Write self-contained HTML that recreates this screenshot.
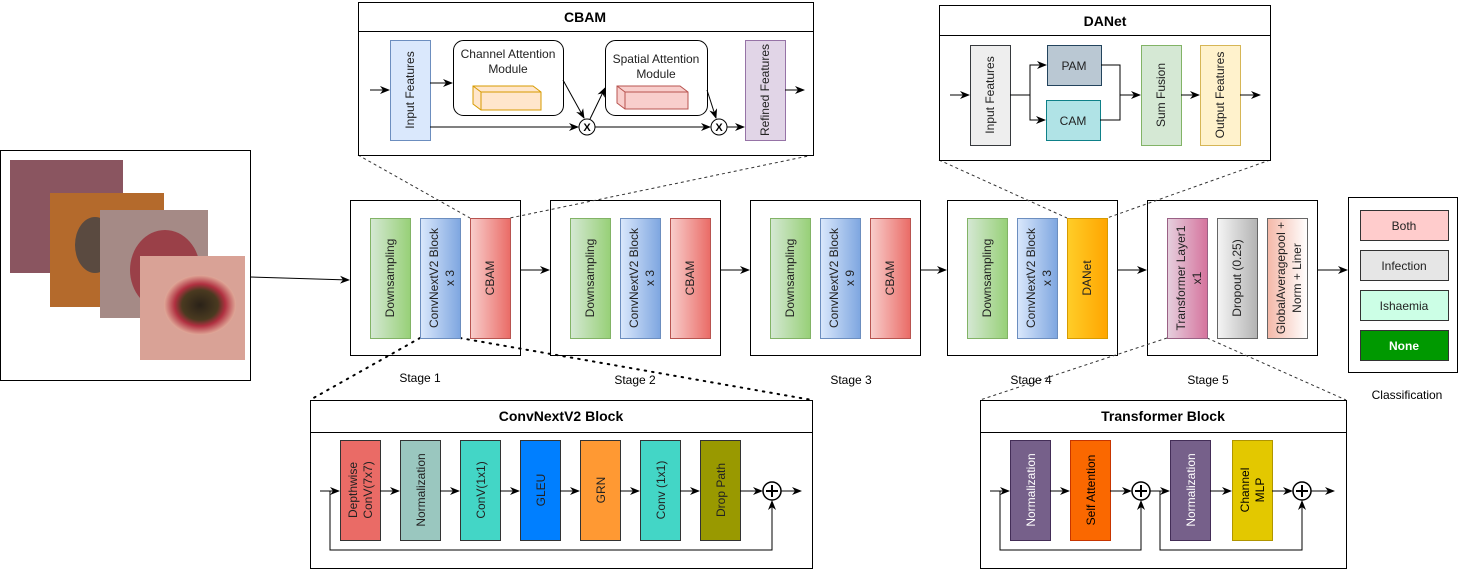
<!DOCTYPE html>
<html><head><meta charset="utf-8"><style>
html,body{margin:0;padding:0;background:#fff}
svg{display:block;font-family:"Liberation Sans",Arial,sans-serif}
</style></head><body>
<svg width="1458" height="570" viewBox="0 0 1458 570" xmlns="http://www.w3.org/2000/svg">
<defs>
<marker id="a" markerWidth="10" markerHeight="8" refX="9" refY="4" orient="auto" markerUnits="userSpaceOnUse"><path d="M0,0 L10,4 L0,8 L3,4 z" fill="#000"/></marker>
<linearGradient id="gG" x1="0" x2="1"><stop offset="0" stop-color="#d5e8d4"/><stop offset="1" stop-color="#97d077"/></linearGradient>
<linearGradient id="gB" x1="0" x2="1"><stop offset="0" stop-color="#dae8fc"/><stop offset="1" stop-color="#7ea6e0"/></linearGradient>
<linearGradient id="gR" x1="0" x2="1"><stop offset="0" stop-color="#f8cecc"/><stop offset="1" stop-color="#ea6b66"/></linearGradient>
<linearGradient id="gO" x1="0" x2="1"><stop offset="0" stop-color="#ffcd28"/><stop offset="1" stop-color="#ffa500"/></linearGradient>
<linearGradient id="gP" x1="0" x2="1"><stop offset="0" stop-color="#e6d0de"/><stop offset="1" stop-color="#d5739d"/></linearGradient>
<linearGradient id="gS" x1="0" x2="1"><stop offset="0" stop-color="#f5f5f5"/><stop offset="1" stop-color="#b3b3b3"/></linearGradient>
<linearGradient id="gK" x1="0" x2="1"><stop offset="0" stop-color="#f4b8a8"/><stop offset="1" stop-color="#fff"/></linearGradient>
<radialGradient id="w1"><stop offset="0" stop-color="#2a2218"/><stop offset="0.5" stop-color="#4a3a20"/><stop offset="0.7" stop-color="#b03040"/><stop offset="1" stop-color="#e0a898"/></radialGradient>
</defs>

<!-- input images -->
<rect x="0.5" y="150.5" width="250" height="230" fill="#fff" stroke="#000"/>
<rect x="10" y="160" width="113" height="113" fill="#8a5560"/>
<rect x="50" y="193" width="114" height="114" fill="#b46a2c"/>
<ellipse cx="95" cy="245" rx="20" ry="28" fill="#5a4a40"/>
<rect x="100" y="210" width="108" height="108" fill="#a58a86"/>
<ellipse cx="165" cy="270" rx="35" ry="40" fill="#9a4048"/>
<rect x="140" y="256" width="105" height="104" fill="#d9a296"/>
<ellipse cx="200" cy="305" rx="36" ry="30" fill="url(#w1)"/>
<line x1="250" y1="277" x2="349" y2="280" stroke="#000" marker-end="url(#a)"/>

<!-- stages -->
<g stroke="#000" fill="#fff">
<rect x="350.5" y="200.5" width="170" height="155"/>
<rect x="550.5" y="200.5" width="170" height="155"/>
<rect x="750.5" y="200.5" width="170" height="155"/>
<rect x="947.5" y="200.5" width="170" height="155"/>
<rect x="1147.5" y="200.5" width="170" height="155"/>
<rect x="1348.5" y="197.5" width="109" height="175"/>
</g>

<!-- dashed zoom lines -->
<g stroke="#333" stroke-dasharray="3,3" fill="none">
<line x1="358" y1="155" x2="470" y2="218"/><line x1="813" y1="155" x2="510" y2="218"/>
<line x1="939" y1="160" x2="1067" y2="218"/><line x1="1270" y1="160" x2="1107" y2="218"/>
<line x1="1167" y1="338" x2="980" y2="400"/><line x1="1207" y1="338" x2="1346" y2="400"/>
</g>
<g stroke="#000" stroke-dasharray="1.5,6" stroke-width="2" stroke-linecap="round" fill="none">
<line x1="420" y1="338" x2="310" y2="400"/><line x1="460" y1="338" x2="812" y2="400"/>
</g>

<g stroke="#000" marker-end="url(#a)">
<line x1="520" y1="270" x2="549" y2="270"/>
<line x1="720" y1="270" x2="749" y2="270"/>
<line x1="920" y1="270" x2="946" y2="270"/>
<line x1="1117" y1="270" x2="1146" y2="270"/>
<line x1="1317" y1="270" x2="1347" y2="270"/>
</g>

<g font-size="12" fill="#222">
<g>
<rect x="370.5" y="218.5" width="40" height="120" fill="url(#gG)" stroke="#82b366"/>
<rect x="420.5" y="218.5" width="40" height="120" fill="url(#gB)" stroke="#6c8ebf"/>
<rect x="470.5" y="218.5" width="40" height="120" fill="url(#gR)" stroke="#b85450"/>
<rect x="570.5" y="218.5" width="40" height="120" fill="url(#gG)" stroke="#82b366"/>
<rect x="620.5" y="218.5" width="40" height="120" fill="url(#gB)" stroke="#6c8ebf"/>
<rect x="670.5" y="218.5" width="40" height="120" fill="url(#gR)" stroke="#b85450"/>
<rect x="770.5" y="218.5" width="40" height="120" fill="url(#gG)" stroke="#82b366"/>
<rect x="820.5" y="218.5" width="40" height="120" fill="url(#gB)" stroke="#6c8ebf"/>
<rect x="870.5" y="218.5" width="40" height="120" fill="url(#gR)" stroke="#b85450"/>
<rect x="967.5" y="218.5" width="40" height="120" fill="url(#gG)" stroke="#82b366"/>
<rect x="1017.5" y="218.5" width="40" height="120" fill="url(#gB)" stroke="#6c8ebf"/>
<rect x="1067.5" y="218.5" width="40" height="120" fill="url(#gO)" stroke="#d79b00"/>
<rect x="1167.5" y="218.5" width="40" height="120" fill="url(#gP)" stroke="#996185"/>
<rect x="1217.5" y="218.5" width="40" height="120" fill="url(#gS)" stroke="#666"/>
<rect x="1267.5" y="218.5" width="40" height="120" fill="url(#gK)" stroke="#666"/>
</g>
<g text-anchor="middle">
<text transform="translate(394,278) rotate(-90)">Downsampling</text>
<text transform="translate(438,278) rotate(-90)">ConvNextV2 Block</text><text transform="translate(454,278) rotate(-90)">x 3</text>
<text transform="translate(494,278) rotate(-90)">CBAM</text>
<text transform="translate(594,278) rotate(-90)">Downsampling</text>
<text transform="translate(638,278) rotate(-90)">ConvNextV2 Block</text><text transform="translate(654,278) rotate(-90)">x 3</text>
<text transform="translate(694,278) rotate(-90)">CBAM</text>
<text transform="translate(794,278) rotate(-90)">Downsampling</text>
<text transform="translate(838,278) rotate(-90)">ConvNextV2 Block</text><text transform="translate(854,278) rotate(-90)">x 9</text>
<text transform="translate(894,278) rotate(-90)">CBAM</text>
<text transform="translate(991,278) rotate(-90)">Downsampling</text>
<text transform="translate(1035,278) rotate(-90)">ConvNextV2 Block</text><text transform="translate(1051,278) rotate(-90)">x 3</text>
<text transform="translate(1091,278) rotate(-90)">DANet</text>
<text transform="translate(1185,278) rotate(-90)">Transformer Layer1</text><text transform="translate(1201,278) rotate(-90)">x1</text>
<text transform="translate(1241,278) rotate(-90)">Dropout (0.25)</text>
<text transform="translate(1285,278) rotate(-90)">GlobalAveragepool +</text><text transform="translate(1301,278) rotate(-90)">Norm + Liner</text>
<text x="420" y="382" fill="#000">Stage 1</text>
<text x="635" y="384" fill="#000">Stage 2</text>
<text x="851" y="384" fill="#000">Stage 3</text>
<text x="1031" y="384" fill="#000">Stage 4</text>
<text x="1208" y="384" fill="#000">Stage 5</text>
<text x="1407" y="399" fill="#000">Classification</text>
</g>
<rect x="1360.5" y="210.5" width="88" height="30" fill="#ffcccc" stroke="#333"/>
<rect x="1360.5" y="250.5" width="88" height="30" fill="#e6e6e6" stroke="#333"/>
<rect x="1360.5" y="290.5" width="88" height="30" fill="#ccffe6" stroke="#333"/>
<rect x="1360.5" y="330.5" width="88" height="30" fill="#009900" stroke="#333"/>
<g text-anchor="middle">
<text x="1404" y="230">Both</text><text x="1404" y="270">Infection</text><text x="1404" y="310">Ishaemia</text>
<text x="1404" y="350" fill="#fff" font-weight="bold">None</text>
</g>
</g>

<!-- CBAM detail -->
<rect x="358.5" y="2.5" width="455" height="153" fill="#fff" stroke="#000"/>
<line x1="358" y1="31.5" x2="813" y2="31.5" stroke="#000"/>
<text x="585" y="22" text-anchor="middle" font-size="14" font-weight="bold">CBAM</text>
<rect x="390.5" y="40.5" width="40" height="100" fill="#dae8fc" stroke="#6c8ebf"/>
<rect x="745.5" y="40.5" width="40" height="100" fill="#e1d5e7" stroke="#9673a6"/>
<rect x="453.5" y="40.5" width="110" height="75" rx="10" fill="#fff" stroke="#000"/>
<rect x="605.5" y="40.5" width="102" height="75" rx="10" fill="#fff" stroke="#000"/>
<g font-size="12" text-anchor="middle" fill="#222">
<text transform="translate(414,90) rotate(-90)">Input Features</text>
<text transform="translate(769,90) rotate(-90)">Refined Features</text>
<text x="508" y="58">Channel Attention</text><text x="508" y="73">Module</text>
<text x="656" y="63">Spatial Attention</text><text x="656" y="78">Module</text>
</g>
<path d="M473,86 h60 l8,6 v18 h-60 l-8,-6 z" fill="#ffe6cc" stroke="#d79b00"/>
<path d="M473,86 l8,6 h60 M481,92 v18" fill="none" stroke="#d79b00"/>
<path d="M617,86 h63 l8,6 v17 h-63 l-8,-6 z" fill="#f8cecc" stroke="#b85450"/>
<path d="M617,86 l8,6 h63 M625,92 v17" fill="none" stroke="#b85450"/>
<g stroke="#000" fill="none">
<line x1="370" y1="90" x2="389" y2="90" marker-end="url(#a)"/>
<line x1="430" y1="83" x2="452" y2="83" marker-end="url(#a)"/>
<line x1="430" y1="127" x2="578" y2="127" marker-end="url(#a)"/>
<line x1="563" y1="80" x2="584" y2="118" marker-end="url(#a)"/>
<line x1="590" y1="119" x2="605" y2="88" marker-end="url(#a)"/>
<line x1="595" y1="127" x2="710" y2="127" marker-end="url(#a)"/>
<line x1="707" y1="90" x2="716" y2="118" marker-end="url(#a)"/>
<line x1="727" y1="127" x2="744" y2="127" marker-end="url(#a)"/>
<line x1="785" y1="90" x2="804" y2="90" marker-end="url(#a)"/>
<circle cx="587" cy="127" r="8" fill="#fff"/><circle cx="719" cy="127" r="8" fill="#fff"/>
</g>
<text x="587" y="131" font-size="11" font-weight="bold" text-anchor="middle">X</text>
<text x="719" y="131" font-size="11" font-weight="bold" text-anchor="middle">X</text>

<!-- DANet detail -->
<rect x="939.5" y="5.5" width="331" height="155" fill="#fff" stroke="#000"/>
<line x1="939" y1="35.5" x2="1270" y2="35.5" stroke="#000"/>
<text x="1105" y="26" text-anchor="middle" font-size="14" font-weight="bold">DANet</text>
<rect x="970.5" y="45.5" width="40" height="100" fill="#eeeeee" stroke="#36393d"/>
<rect x="1047.5" y="45.5" width="54" height="40" fill="#bac8d3" stroke="#23445d"/>
<rect x="1046.5" y="100.5" width="54" height="40" fill="#b0e3e6" stroke="#0e8088"/>
<rect x="1141.5" y="45.5" width="40" height="100" fill="#d5e8d4" stroke="#82b366"/>
<rect x="1200.5" y="45.5" width="40" height="100" fill="#fff2cc" stroke="#d6b656"/>
<g font-size="12" text-anchor="middle" fill="#222">
<text transform="translate(994,95) rotate(-90)">Input Features</text>
<text transform="translate(1165,95) rotate(-90)">Sum Fusion</text>
<text transform="translate(1224,95) rotate(-90)">Output Features</text>
<text x="1074" y="70">PAM</text><text x="1073" y="125">CAM</text>
</g>
<g stroke="#000" fill="none">
<line x1="950" y1="95" x2="969" y2="95" marker-end="url(#a)"/>
<path d="M1010,95 H1030 V65 H1046" marker-end="url(#a)"/>
<path d="M1030,95 V120 H1045" marker-end="url(#a)"/>
<path d="M1101,65 H1120 V120 H1100"/>
<line x1="1120" y1="95" x2="1140" y2="95" marker-end="url(#a)"/>
<line x1="1181" y1="95" x2="1199" y2="95" marker-end="url(#a)"/>
<line x1="1240" y1="95" x2="1260" y2="95" marker-end="url(#a)"/>
</g>

<!-- ConvNextV2 detail -->
<rect x="310.5" y="400.5" width="502" height="168" fill="#fff" stroke="#000"/>
<line x1="310" y1="432.5" x2="812" y2="432.5" stroke="#000"/>
<text x="561" y="421" text-anchor="middle" font-size="14" font-weight="bold">ConvNextV2 Block</text>
<rect x="340.5" y="440.5" width="40" height="100" fill="#ea6b66" stroke="#333"/>
<rect x="400.5" y="440.5" width="40" height="100" fill="#9ac7bf" stroke="#333"/>
<rect x="460.5" y="440.5" width="40" height="100" fill="#43d6c6" stroke="#333"/>
<rect x="520.5" y="440.5" width="40" height="100" fill="#007fff" stroke="#333"/>
<rect x="580.5" y="440.5" width="40" height="100" fill="#ff9933" stroke="#333"/>
<rect x="640.5" y="440.5" width="40" height="100" fill="#43d6c6" stroke="#333"/>
<rect x="700.5" y="440.5" width="40" height="100" fill="#999900" stroke="#333"/>
<g font-size="12" text-anchor="middle" fill="#222">
<text transform="translate(357,490) rotate(-90)">Depthwise</text><text transform="translate(372,490) rotate(-90)">ConV(7x7)</text>
<text transform="translate(425,490) rotate(-90)">Normalization</text>
<text transform="translate(485,490) rotate(-90)">ConV(1x1)</text>
<text transform="translate(545,490) rotate(-90)">GLEU</text>
<text transform="translate(605,490) rotate(-90)">GRN</text>
<text transform="translate(665,490) rotate(-90)">Conv (1x1)</text>
<text transform="translate(725,490) rotate(-90)">Drop Path</text>
</g>
<g stroke="#000" fill="none">
<line x1="320" y1="491" x2="339" y2="491" marker-end="url(#a)"/>
<line x1="380" y1="491" x2="399" y2="491" marker-end="url(#a)"/>
<line x1="440" y1="491" x2="459" y2="491" marker-end="url(#a)"/>
<line x1="500" y1="491" x2="519" y2="491" marker-end="url(#a)"/>
<line x1="560" y1="491" x2="579" y2="491" marker-end="url(#a)"/>
<line x1="620" y1="491" x2="639" y2="491" marker-end="url(#a)"/>
<line x1="680" y1="491" x2="699" y2="491" marker-end="url(#a)"/>
<line x1="740" y1="491" x2="762" y2="491" marker-end="url(#a)"/>
<line x1="781" y1="491" x2="801" y2="491" marker-end="url(#a)"/>
<path d="M330,491 V550 H772 V501" marker-end="url(#a)"/>
<circle cx="772" cy="491" r="9" fill="#fff" stroke-width="1.5"/>
<path d="M766,491 h12 M772,485 v12" stroke-width="2"/>
</g>

<!-- Transformer detail -->
<rect x="980.5" y="400.5" width="366" height="168" fill="#fff" stroke="#000"/>
<line x1="980" y1="432.5" x2="1346" y2="432.5" stroke="#000"/>
<text x="1163" y="421" text-anchor="middle" font-size="14" font-weight="bold">Transformer Block</text>
<rect x="1010.5" y="440.5" width="40" height="100" fill="#76608a" stroke="#432d57"/>
<rect x="1070.5" y="440.5" width="40" height="100" fill="#fa6800" stroke="#c73500"/>
<rect x="1170.5" y="440.5" width="40" height="100" fill="#76608a" stroke="#432d57"/>
<rect x="1232.5" y="440.5" width="40" height="100" fill="#e3c800" stroke="#b09500"/>
<g font-size="12" text-anchor="middle">
<text transform="translate(1035,490) rotate(-90)" fill="#fff">Normalization</text>
<text transform="translate(1095,490) rotate(-90)" fill="#000">Self Attention</text>
<text transform="translate(1195,490) rotate(-90)" fill="#fff">Normalization</text>
<text transform="translate(1249,490) rotate(-90)" fill="#000">Channel</text><text transform="translate(1264,490) rotate(-90)" fill="#000">MLP</text>
</g>
<g stroke="#000" fill="none">
<line x1="990" y1="491" x2="1009" y2="491" marker-end="url(#a)"/>
<line x1="1050" y1="491" x2="1069" y2="491" marker-end="url(#a)"/>
<line x1="1110" y1="491" x2="1131" y2="491" marker-end="url(#a)"/>
<line x1="1150" y1="491" x2="1169" y2="491" marker-end="url(#a)"/>
<line x1="1210" y1="491" x2="1231" y2="491" marker-end="url(#a)"/>
<line x1="1272" y1="491" x2="1292" y2="491" marker-end="url(#a)"/>
<line x1="1311" y1="491" x2="1334" y2="491" marker-end="url(#a)"/>
<path d="M1000,491 V550 H1141 V501" marker-end="url(#a)"/>
<path d="M1160,491 V550 H1302 V501" marker-end="url(#a)"/>
<circle cx="1141" cy="491" r="9" fill="#fff" stroke-width="1.5"/>
<path d="M1135,491 h12 M1141,485 v12" stroke-width="2"/>
<circle cx="1302" cy="491" r="9" fill="#fff" stroke-width="1.5"/>
<path d="M1296,491 h12 M1302,485 v12" stroke-width="2"/>
</g>
</svg>
</body></html>
